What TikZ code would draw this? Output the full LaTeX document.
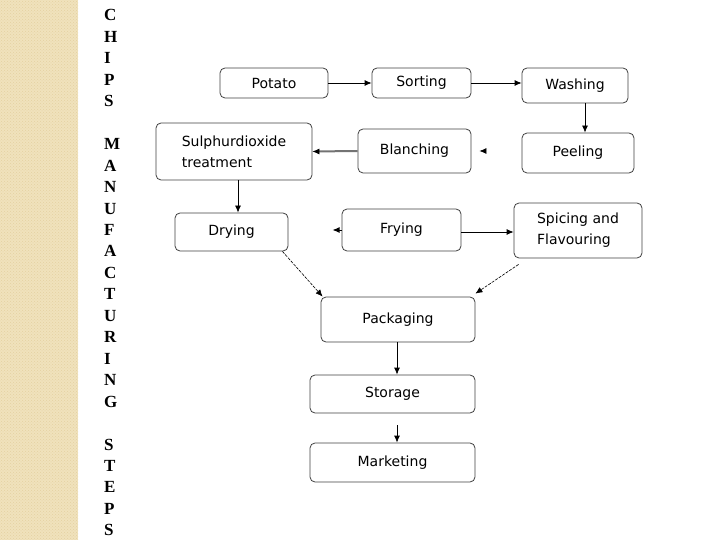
\documentclass[tikz,border=0pt]{standalone}
\usepackage{fontspec}
\usetikzlibrary{arrows.meta,patterns}
\newfontfamily\boxfont{DejaVu Sans}
\newfontfamily\titlefont{Liberation Serif}
\definecolor{stripe}{RGB}{240,226,188}
\definecolor{stripedot}{RGB}{228,208,160}
\tikzset{
  box/.style={draw=black!75, line width=0.8pt, rounded corners=5pt, fill=white,
    font=\boxfont\fontsize{14}{21}\selectfont, inner sep=2pt, align=left},
  arr/.style={-{Latex[length=7pt,width=6pt]}, line width=0.8pt},
  diag/.style={-{Latex[length=7pt,width=6pt]}, line width=0.6pt, dash pattern=on 3pt off 1.2pt},
  letter/.style={font=\titlefont\bfseries\fontsize{17}{17}\selectfont, anchor=base west, inner sep=0pt}
}
\begin{document}
\begin{tikzpicture}[x=1pt,y=-1pt]
\useasboundingbox (0,0) rectangle (720,540);
\fill[stripe] (0,0) rectangle (78,540);
\fill[pattern=crosshatch dots, pattern color=stripedot] (0,0) rectangle (78,540);
% title letters
\foreach \l [count=\i] in {C,H,I,P,S,{},M,A,N,U,F,A,C,T,U,R,I,N,G,{},S,T,E,P,S}
  \node[letter] (t\i) at (104,{21+(\i-1)*21.45}) {\l};
% boxes
\node[box, minimum width=108pt, minimum height=30pt] (potato) at (274,83) {Potato};
\node[box, minimum width=99pt, minimum height=30pt] (sorting) at (421.5,83) {Sorting};
\node[box, minimum width=106pt, minimum height=35pt] (washing) at (575,85.5) {Washing};
\node[box, minimum width=156pt, minimum height=57pt] (sulphur) at (234,151.5) {Sulphurdioxide\\treatment};
\node[box, minimum width=113pt, minimum height=44pt] (blanching) at (414.5,151) {Blanching};
\node[box, minimum width=112pt, minimum height=40pt] (peeling) at (578,153) {Peeling};
\node[box, minimum width=113pt, minimum height=38pt] (drying) at (231.5,232) {Drying};
\node[box, minimum width=119pt, minimum height=42pt] (frying) at (401.5,230) {Frying};
\node[box, minimum width=128pt, minimum height=55pt] (spicing) at (578,230.5) {Spicing and\\Flavouring};
\node[box, minimum width=154pt, minimum height=45pt] (packaging) at (398,319.5) {Packaging};
\node[box, minimum width=165pt, minimum height=38pt] (storage) at (392.5,394) {Storage};
\node[box, minimum width=165pt, minimum height=39pt] (marketing) at (392.5,462.5) {Marketing};
% connectors
\draw[arr] (potato.east) -- (sorting.west);
\draw[arr] (sorting.east) -- (sorting.east -| washing.west);
\draw[arr] ([xshift=10pt]washing.south) -- ([xshift=10pt]washing.south |- peeling.north);
\draw[black!55, line width=2pt, shorten >=4pt] (blanching.west) -- (sulphur.east);
\draw[arr] ([xshift=6pt]sulphur.east) -- (sulphur.east);
\draw[arr] ([xshift=13pt]blanching.east) -- ([xshift=8pt]blanching.east);
\draw[arr] ([xshift=4pt]sulphur.south) -- ([xshift=4pt]sulphur.south |- drying.north);
\draw[arr] (frying.west) -- ([xshift=-9pt]frying.west);
\draw[arr] ([yshift=-2pt]frying.east) -- ([yshift=-2pt]frying.east -| spicing.west);
\draw[diag] ([xshift=-6pt]drying.south east) -- ([xshift=2pt]packaging.north west);
\draw[diag] ([xshift=5pt,yshift=-6pt]spicing.south west) -- ([yshift=3pt]packaging.north east);
\draw[arr] ([xshift=-1pt]packaging.south) -- ([xshift=-1pt]packaging.south |- storage.north);
\draw[arr] ([xshift=4.5pt,yshift=-12pt]storage.south) -- ([xshift=4.5pt]marketing.north);
\end{tikzpicture}
\end{document}
